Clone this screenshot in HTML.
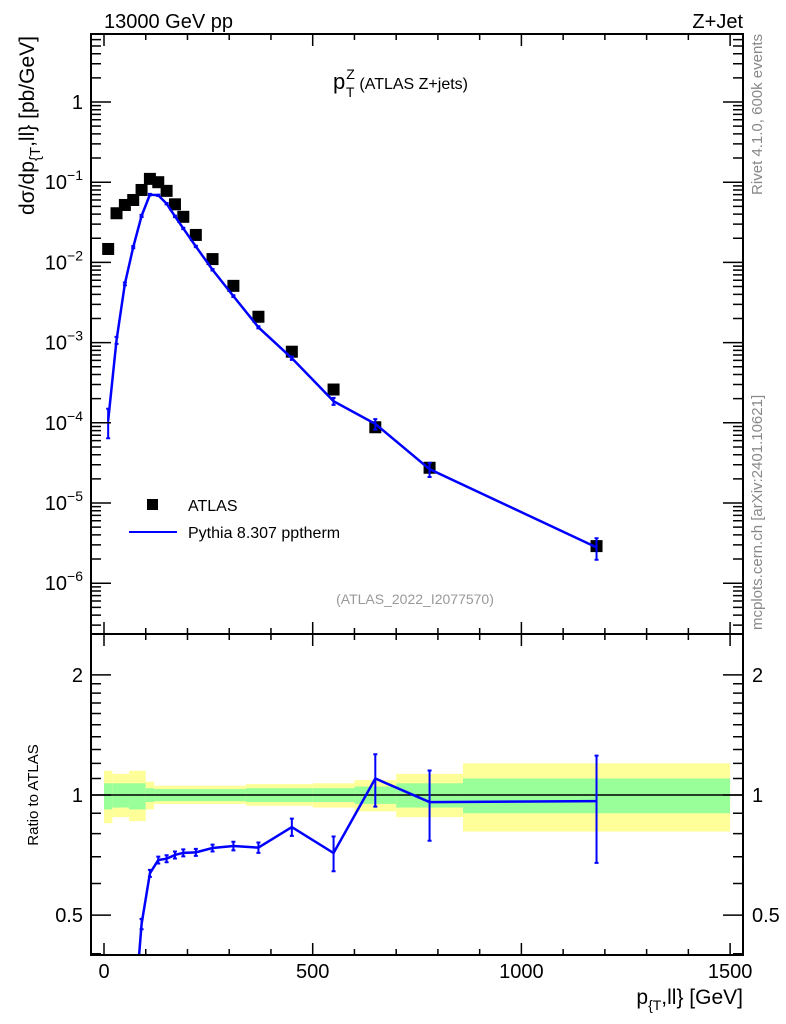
<!DOCTYPE html>
<html><head><meta charset="utf-8"><style>
html,body{margin:0;padding:0;background:#fff;overflow:hidden;width:786px;height:1024px;}
svg{display:block;}
svg text{font-family:"Liberation Sans",sans-serif;}
</style></head><body>
<svg id="c" width="786" height="1024" xmlns="http://www.w3.org/2000/svg">
<rect width="786" height="1024" fill="#fff"/>
<g id="bands"></g>
<g id="marks"></g>
<g id="axes"></g>
<text x="104" y="28" font-size="20">13000 GeV pp</text>
<text x="743" y="28" font-size="20" text-anchor="end">Z+Jet</text>
<text x="333" y="89" font-size="22">p<tspan font-size="14" dy="-10" dx="1">Z</tspan><tspan font-size="14" dy="18" dx="-9">T</tspan><tspan font-size="16" dy="-8" dx="5">(ATLAS Z+jets)</tspan></text>
<text x="415" y="604" font-size="14" fill="#999" text-anchor="middle">(ATLAS_2022_I2077570)</text>
<text transform="translate(762,34) rotate(-90)" font-size="15" fill="#888" text-anchor="end">Rivet 4.1.0,  600k events</text>
<text transform="translate(762,630) rotate(-90)" font-size="15" fill="#888">mcplots.cern.ch [arXiv:2401.10621]</text>
<text transform="translate(34,36) rotate(-90)" font-size="21" text-anchor="end">dσ/dp<tspan font-size="15" dy="6">{T</tspan><tspan dy="-6">,ll} [pb/GeV]</tspan></text>
<text transform="translate(38,795) rotate(-90)" font-size="15" text-anchor="middle">Ratio to ATLAS</text>
<text x="743" y="1004" font-size="21" text-anchor="end">p<tspan font-size="14" dy="6">{T</tspan><tspan dy="-6">,ll} [GeV]</tspan></text>
<g>
<rect x="147" y="499" width="11" height="11" fill="#000"/>
<text x="188" y="511" font-size="16">ATLAS</text>
<line x1="129" y1="532" x2="177" y2="532" stroke="#00f" stroke-width="2"/>
<text x="188" y="538" font-size="16">Pythia 8.307 pptherm</text>
</g>
</svg>
<script>
const binLo=[0,20,40,60,80,100,120,140,160,180,200,240,280,340,400,500,600,700,860];
const binHi=[20,40,60,80,100,120,140,160,180,200,240,280,340,400,500,600,700,860,1500];
const xVals=[10,30,50,70,90,110,130,150,170,190,220,260,310,370,450,550,650,780,1180];
const dataVals=[0.0147,0.041,0.052,0.06,0.08,0.11,0.1,0.078,0.053,0.037,0.022,0.011,0.0051,0.0021,0.00077,0.00026,0.000088,0.0000275,0.0000029];
const mcVals=[0.000107,0.00107,0.0054,0.0155,0.038,0.070,0.0687,0.054,0.0375,0.0265,0.0158,0.0081,0.0038,0.00155,0.00064,0.000186,0.0000968,0.0000264,0.0000028];
const mcRelErr=[0.4,0.1,0.04,0.03,0.03,0.02,0.02,0.02,0.02,0.02,0.02,0.02,0.025,0.03,0.05,0.1,0.15,0.2,0.3];
const bandLo=[0,20,60,100,120,340,500,600,700,860];
const bandHi=[20,60,100,120,340,500,600,700,860,1500];
const yelUp=[1.15,1.13,1.15,1.08,1.055,1.065,1.07,1.09,1.13,1.2];
const yelDn=[0.85,0.88,0.86,0.92,0.95,0.94,0.93,0.91,0.88,0.81];
const grnUp=[1.07,1.07,1.07,1.04,1.035,1.04,1.04,1.05,1.07,1.1];
const grnDn=[0.92,0.93,0.92,0.96,0.965,0.96,0.96,0.95,0.93,0.9];
const xTicks=[0,500,1000,1500];
const mainTicks=[0,-1,-2,-3,-4,-5,-6];
const ratioTicks=[0.5,1,2];

const NS="http://www.w3.org/2000/svg";
const L=91,R=743,T=34,M=634,B=955;
const X=v=>104+v*0.4174;
const Y=v=>102-80.2*Math.log10(v);
const RY=v=>795-399*Math.log10(v);
function mk(tag,attrs,parent){const e=document.createElementNS(NS,tag);for(const k in attrs)e.setAttribute(k,attrs[k]);parent.appendChild(e);return e;}
const bands=document.getElementById('bands'),marks=document.getElementById('marks'),axes=document.getElementById('axes');

const defs=mk('defs',{},document.getElementById('c'));
const cp1=mk('clipPath',{id:'cm'},defs);mk('rect',{x:L,y:T,width:R-L,height:M-T},cp1);
const cp2=mk('clipPath',{id:'cr'},defs);mk('rect',{x:L,y:M,width:R-L,height:B-M},cp2);
bands.setAttribute('clip-path','url(#cr)');

for(let i=0;i<bandLo.length;i++){
 let r=mk('rect',{x:X(bandLo[i]),y:RY(yelUp[i]),width:X(bandHi[i])-X(bandLo[i]),height:RY(yelDn[i])-RY(yelUp[i]),fill:'#ffff99'},bands);
 
 
 r=mk('rect',{x:X(bandLo[i]),y:RY(grnUp[i]),width:X(bandHi[i])-X(bandLo[i]),height:RY(grnDn[i])-RY(grnUp[i]),fill:'#99ff99'},bands);
 
 
}
let ln=mk('line',{x1:L,x2:R,y1:RY(1),y2:RY(1),stroke:'#000','stroke-width':1.5},bands);



const gm=mk('g',{'clip-path':'url(#cm)'},marks);
for(let i=0;i<xVals.length;i++){
 const s=mk('rect',{x:X(xVals[i])-6,y:Y(dataVals[i])-6,width:12,height:12,fill:'#000'},gm);
 
 
}
let pts=xVals.map((x,i)=>X(x)+','+Y(mcVals[i])).join(' ');
let pl=mk('polyline',{points:pts,fill:'none',stroke:'#00f','stroke-width':2.5},gm);


for(let i=0;i<xVals.length;i++){
 const x=X(xVals[i]),y1=Y(mcVals[i]*(1+mcRelErr[i])),y2=Y(mcVals[i]*(1-mcRelErr[i]));
 const e=mk('path',{d:`M${x},${y1}V${y2}M${x-2},${y1}h4M${x-2},${y2}h4`,stroke:'#00f','stroke-width':2,fill:'none'},gm);
 
 
}
const gr=mk('g',{'clip-path':'url(#cr)'},marks);
const rat=mcVals.map((v,i)=>v/dataVals[i]);
pl=mk('polyline',{points:xVals.map((x,i)=>X(x)+','+RY(Math.max(rat[i],0.01))).join(' '),fill:'none',stroke:'#00f','stroke-width':2.5},gr);


for(let i=0;i<xVals.length;i++){
 const x=X(xVals[i]),y1=RY(Math.max(rat[i]*(1+mcRelErr[i]),0.01)),y2=RY(Math.max(rat[i]*(1-mcRelErr[i]),0.01));
 const e=mk('path',{d:`M${x},${y1}V${y2}M${x-2},${y1}h4M${x-2},${y2}h4`,stroke:'#00f','stroke-width':2,fill:'none'},gr);
 
 
}

let f=mk('rect',{x:L,y:T,width:R-L,height:B-T,fill:'none',stroke:'#000','stroke-width':2},axes);


mk('line',{x1:L,x2:R,y1:M,y2:M,stroke:'#000','stroke-width':2},axes);
let d='';
for(let v=0;v<=1500;v+=100){
 const x=X(v),big=v%500==0,len=big?12:6;
 d+=`M${x},${T}v${len}M${x},${M}v${-len}M${x},${M}v${len}M${x},${B}v${-len}`;
}
for(let e=1;e>=-7;e--){
 for(let k=1;k<10;k++){
  const y=Y(k*Math.pow(10,e)); if(y<T||y>M)continue;
  const len=k==1?20:10;
  d+=`M${L},${y}h${len}M${R},${y}h${-len}`;
 }
}
const rMinor=[0.4,0.5,0.6,0.7,0.8,0.9,1,1.1,1.2,1.3,1.4,1.5,1.6,1.7,1.8,1.9,2];
rMinor.forEach(v=>{const y=RY(v);const len=ratioTicks.includes(v)?20:10;d+=`M${L},${y}h${len}M${R},${y}h${-len}`;});
mk('path',{d:d,stroke:'#000','stroke-width':1.5,fill:'none'},axes);
xTicks.forEach(v=>{const t=mk('text',{x:X(v),y:978,'font-size':20,'text-anchor':'middle'},axes);t.textContent=v;
 
 });
mainTicks.forEach(e=>{const t=mk('text',{x:83,y:Y(Math.pow(10,e))+7,'font-size':20,'text-anchor':'end'},axes);
 if(e==0)t.textContent='1';else{t.textContent='10';const s=mk('tspan',{dy:-9,'font-size':14},t);s.textContent='−'+(-e);}
 
 });
ratioTicks.forEach(v=>{[83,752].forEach(x=>{const t=mk('text',{x:x,y:RY(v)+7,'font-size':20,'text-anchor':x<100?'end':'start'},axes);t.textContent=v;
 
 });});
</script>
</body></html>
